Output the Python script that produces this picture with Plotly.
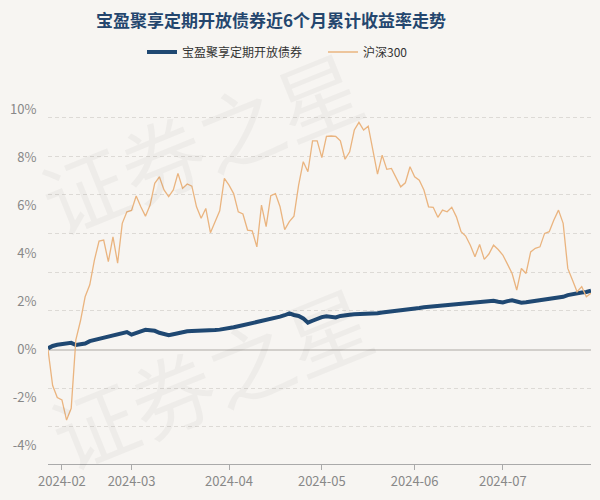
import pandas as pd
import plotly.graph_objects as go

# ---- data ----
holidays = ["2024-02-09", "2024-02-12", "2024-02-13", "2024-02-14", "2024-02-15",
            "2024-02-16", "2024-04-04", "2024-04-05", "2024-05-01", "2024-05-02",
            "2024-05-03", "2024-06-10"]
bdays = pd.bdate_range("2024-01-29", "2024-07-26")
dates = [d.strftime("%Y-%m-%d") for d in bdays if d.strftime("%Y-%m-%d") not in holidays]

fund = [0.05, 0.15, 0.20, 0.22, 0.25, 0.28, 0.19, 0.21, 0.25, 0.35,
        0.40, 0.43, 0.49, 0.56, 0.62, 0.66, 0.70, 0.73, 0.62, 0.67,
        0.76, 0.82, 0.80, 0.78, 0.70, 0.64, 0.60, 0.64, 0.69, 0.72,
        0.76, 0.77, 0.77, 0.77, 0.77, 0.79, 0.81, 0.83, 0.85, 0.89,
        0.93, 0.97, 1.01, 1.06, 1.11, 1.16, 1.20, 1.23, 1.26, 1.31,
        1.37, 1.43, 1.51, 1.44, 1.40, 1.30, 1.12, 1.20, 1.28, 1.35,
        1.39, 1.35, 1.34, 1.40, 1.44, 1.45, 1.47, 1.47, 1.48, 1.48,
        1.50, 1.51, 1.54, 1.56, 1.58, 1.60, 1.61, 1.63, 1.67, 1.70,
        1.73, 1.76, 1.78, 1.80, 1.81, 1.83, 1.84, 1.86, 1.88, 1.90,
        1.91, 1.93, 1.95, 1.97, 2.00, 2.01, 2.03, 1.99, 1.96, 2.02,
        2.05, 2.00, 1.95, 1.97, 2.00, 2.04, 2.08, 2.11, 2.14, 2.15,
        2.16, 2.20, 2.27, 2.32, 2.37, 2.38, 2.40, 2.45]

hs300 = [0.00, -1.50, -2.00, -2.10, -2.94, -2.45, 0.40, 1.20, 2.20, 2.70,
         3.73, 4.52, 4.56, 3.66, 4.70, 3.60, 5.26, 5.74, 5.80, 6.40,
         5.95, 5.56, 6.02, 6.93, 7.20, 6.65, 6.37, 6.65, 7.34, 6.72,
         6.90, 6.81, 5.95, 5.47, 5.88, 4.87, 5.33, 5.78, 7.13, 6.85,
         6.50, 5.74, 5.65, 4.98, 4.95, 4.28, 6.02, 5.12, 6.41, 6.50,
         5.95, 5.00, 5.33, 5.56, 6.85, 7.83, 7.41, 8.70, 8.70, 8.00,
         8.88, 8.90, 8.88, 8.70, 7.93, 8.24, 9.15, 9.47, 9.15, 9.31,
         8.31, 7.31, 8.10, 7.51, 7.55, 7.13, 6.78, 6.95, 7.62, 7.20,
         7.06, 6.65, 5.95, 5.93, 5.51, 5.81, 5.74, 5.93, 5.53, 4.91,
         4.73, 4.35, 3.87, 4.38, 3.76, 3.98, 4.35, 4.17, 3.94, 3.56,
         3.17, 2.48, 3.38, 3.17, 4.07, 4.22, 4.28, 4.84, 4.91, 5.40,
         5.81, 5.26, 3.38, 2.90, 2.41, 2.62, 2.20, 2.35]

x_tick_vals = ["2024-02-01", "2024-03-01", "2024-04-01", "2024-05-06", "2024-06-03", "2024-07-01"]
x_tick_text = ["2024-02", "2024-03", "2024-04", "2024-05", "2024-06", "2024-07"]
y_tick_vals = [-4, -2, 0, 2, 4, 6, 8, 10]
y_tick_text = ["-4%", "-2%", "0%", "2%", "4%", "6%", "8%", "10%"]

fund_name = "宝盈聚享定期开放债券"
index_name = "沪深300"
title = "宝盈聚享定期开放债券近6个月累计收益率走势"
watermark = "证券之星"

# ---- style ----
FONT = "Noto Sans CJK SC"
BG = "#f7f5f2"
Y_LO, Y_HI = -4.77, 10.4
GRID_STEP = 1.613
L, R, T, B, W, H = 48, 9, 100, 36, 600, 500
PW, PH = W - L - R, H - T - B


def px_x(px):
    return (px - L) / PW


def px_y(py):
    return (H - B - py) / PH


fig = go.Figure()
fig.add_trace(go.Scatter(x=dates, y=fund, name=fund_name, mode="lines",
                         line=dict(color="#1f4872", width=4)))
fig.add_trace(go.Scatter(x=dates, y=hs300, name=index_name, mode="lines",
                         line=dict(color="#eab47f", width=1.3)))
fig.add_trace(go.Scatter(x=[], y=[], yaxis="y2", showlegend=False, hoverinfo="skip"))

# watermark
for (wx, wy) in [(200, 140), (210, 375)]:
    fig.add_annotation(text=watermark, xref="paper", yref="paper",
                       x=px_x(wx), y=px_y(wy), xanchor="center", yanchor="middle",
                       showarrow=False, textangle=-22,
                       font=dict(family=FONT, size=84, color="rgba(0,0,0,0.035)"))

fig.update_layout(
    width=W, height=H,
    paper_bgcolor=BG, plot_bgcolor=BG,
    margin=dict(l=L, r=R, t=T, b=B, autoexpand=False),
    font=dict(family=FONT, color="#888888"),
    title=dict(text=title, x=271 / W, xanchor="center", y=1 - 21 / H, yanchor="middle",
               font=dict(family=FONT, size=17, color="#24466e", weight="bold")),
    legend=dict(orientation="h", x=px_x(142), xanchor="left", y=px_y(52), yanchor="middle",
                entrywidth=136, entrywidthmode="pixels",
                font=dict(family=FONT, size=12, color="#333333"), bgcolor="rgba(0,0,0,0)"),
    showlegend=True,
    xaxis=dict(type="category", range=[0, len(dates) - 1],
               tickmode="array", tickvals=x_tick_vals, ticktext=x_tick_text,
               showgrid=False, zeroline=False,
               showline=True, linecolor="#aaaaaa", linewidth=1,
               ticks="outside", ticklen=5, tickcolor="#aaaaaa",
               tickfont=dict(family=FONT, size=13, color="#888888")),
    yaxis=dict(range=[Y_LO, Y_HI], tickmode="array", tickvals=y_tick_vals, ticktext=y_tick_text,
               showgrid=False, zeroline=True, zerolinecolor="#d2cfcb", zerolinewidth=2,
               showline=False, ticks="outside", ticklen=8, tickcolor="rgba(0,0,0,0)",
               tickfont=dict(family=FONT, size=13, color="#888888")),
    yaxis2=dict(overlaying="y", side="left", range=[Y_LO / GRID_STEP, Y_HI / GRID_STEP],
                tickmode="linear", tick0=0, dtick=1, showticklabels=False,
                showgrid=True, gridcolor="#dddad6", griddash="4px,3px", gridwidth=1,
                zeroline=False, showline=False, ticks=""),
)

fig.write_html("out.html", config={"displayModeBar": False},
               post_script="document.body.style.margin='0';document.body.style.background='" + BG + "';")
